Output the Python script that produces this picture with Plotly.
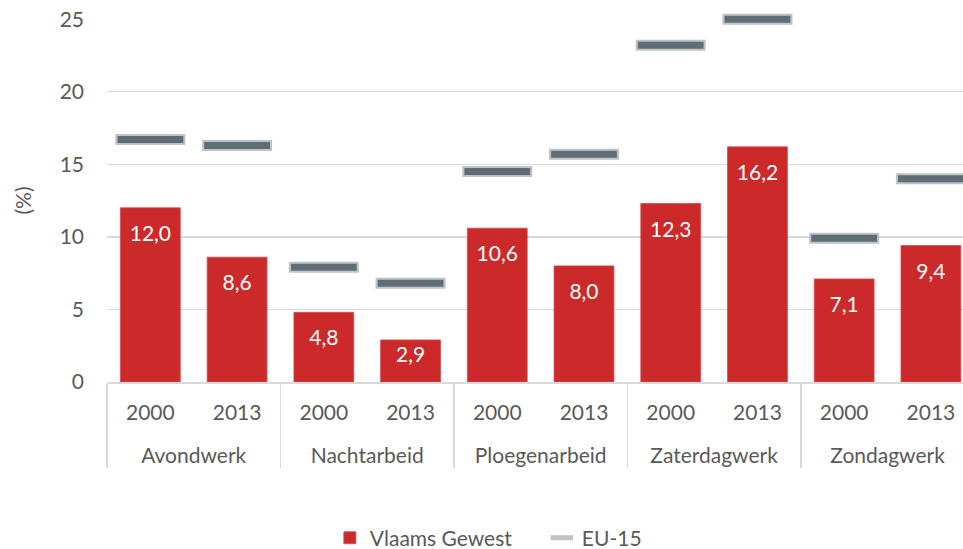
import plotly.graph_objects as go

categories = ["Avondwerk", "Nachtarbeid", "Ploegenarbeid", "Zaterdagwerk", "Zondagwerk"]
years = ["2000", "2013"]
vlaams = [12.0, 8.6, 4.8, 2.9, 10.6, 8.0, 12.3, 16.2, 7.1, 9.4]
eu15 = [16.7, 16.3, 7.9, 6.8, 14.5, 15.7, 23.2, 25.0, 9.9, 14.0]
y_ticks = [0, 5, 10, 15, 20, 25]

# an empty first line pushes the category row further below the year row
x_cat = ["<br>" + c for c in categories for _ in years]
x_year = [y for _ in categories for y in years]
x = [x_cat, x_year]

FONT = "Lato"
FS = 21
GREY = "#595959"
RED = "#CC2A2A"

labels = [f"{v:.1f}".replace(".", ",") for v in vlaams]
label_y = [max(v - 1.93, v * 0.6) for v in vlaams]

fig = go.Figure()
fig.add_trace(go.Bar(
    x=x, y=vlaams, name="Vlaams Gewest",
    marker=dict(color=RED, line=dict(color="#D9484A", width=0.8)),
    hoverinfo="skip",
))
fig.add_trace(go.Scatter(
    x=x, y=label_y, mode="text", text=labels,
    textfont=dict(family=FONT, size=FS, color="white"),
    showlegend=False, hoverinfo="skip",
))
fig.add_trace(go.Scatter(
    x=x, y=eu15, mode="markers", name="EU-15",
    marker=dict(symbol="line-ew", size=50, line=dict(color="#BFC3C5", width=11)),
    cliponaxis=False, hoverinfo="skip",
))
fig.add_trace(go.Scatter(
    x=x, y=eu15, mode="markers", name="EU-15",
    marker=dict(symbol="line-ew", size=47, line=dict(color="#5F6E76", width=7)),
    cliponaxis=False, showlegend=False, hoverinfo="skip",
))

fig.update_layout(
    width=963, height=549,
    margin=dict(l=107, r=0, t=19, b=167, autoexpand=False),
    paper_bgcolor="white", plot_bgcolor="white",
    font=dict(family=FONT, size=FS, color=GREY),
    bargap=0.31,
    showlegend=True,
    legend=dict(orientation="h", x=0.508, xanchor="center", y=-0.43, yanchor="middle",
                font=dict(family=FONT, size=FS, color=GREY), itemwidth=30,
                entrywidth=167, traceorder="normal"),
    xaxis=dict(
        type="multicategory", range=[-0.5, 9.37], automargin=False,
        showline=True, linecolor="#D9D9D9", linewidth=1.5,
        showdividers=True, dividercolor="#D9D9D9", dividerwidth=1.5,
        ticks="", ticklabelstandoff=11,
        tickfont=dict(family=FONT, size=FS, color=GREY),
        showgrid=False,
    ),
    yaxis=dict(
        range=[0, 25.01], tickvals=y_ticks, showgrid=True, gridcolor="#D9D9D9", gridwidth=1.5,
        zeroline=False, ticks="", ticklabelstandoff=22, automargin=False,
        ticklabeloverflow="allow",
        tickfont=dict(family=FONT, size=FS, color=GREY),
        title=dict(text="(%)", font=dict(family=FONT, size=FS, color=GREY), standoff=22),
    ),
)

# remove the default page margin so the figure fills the window exactly
fig.write_html("out.html", config={"displayModeBar": False, "staticPlot": True},
               post_script="document.body.style.margin='0';")
